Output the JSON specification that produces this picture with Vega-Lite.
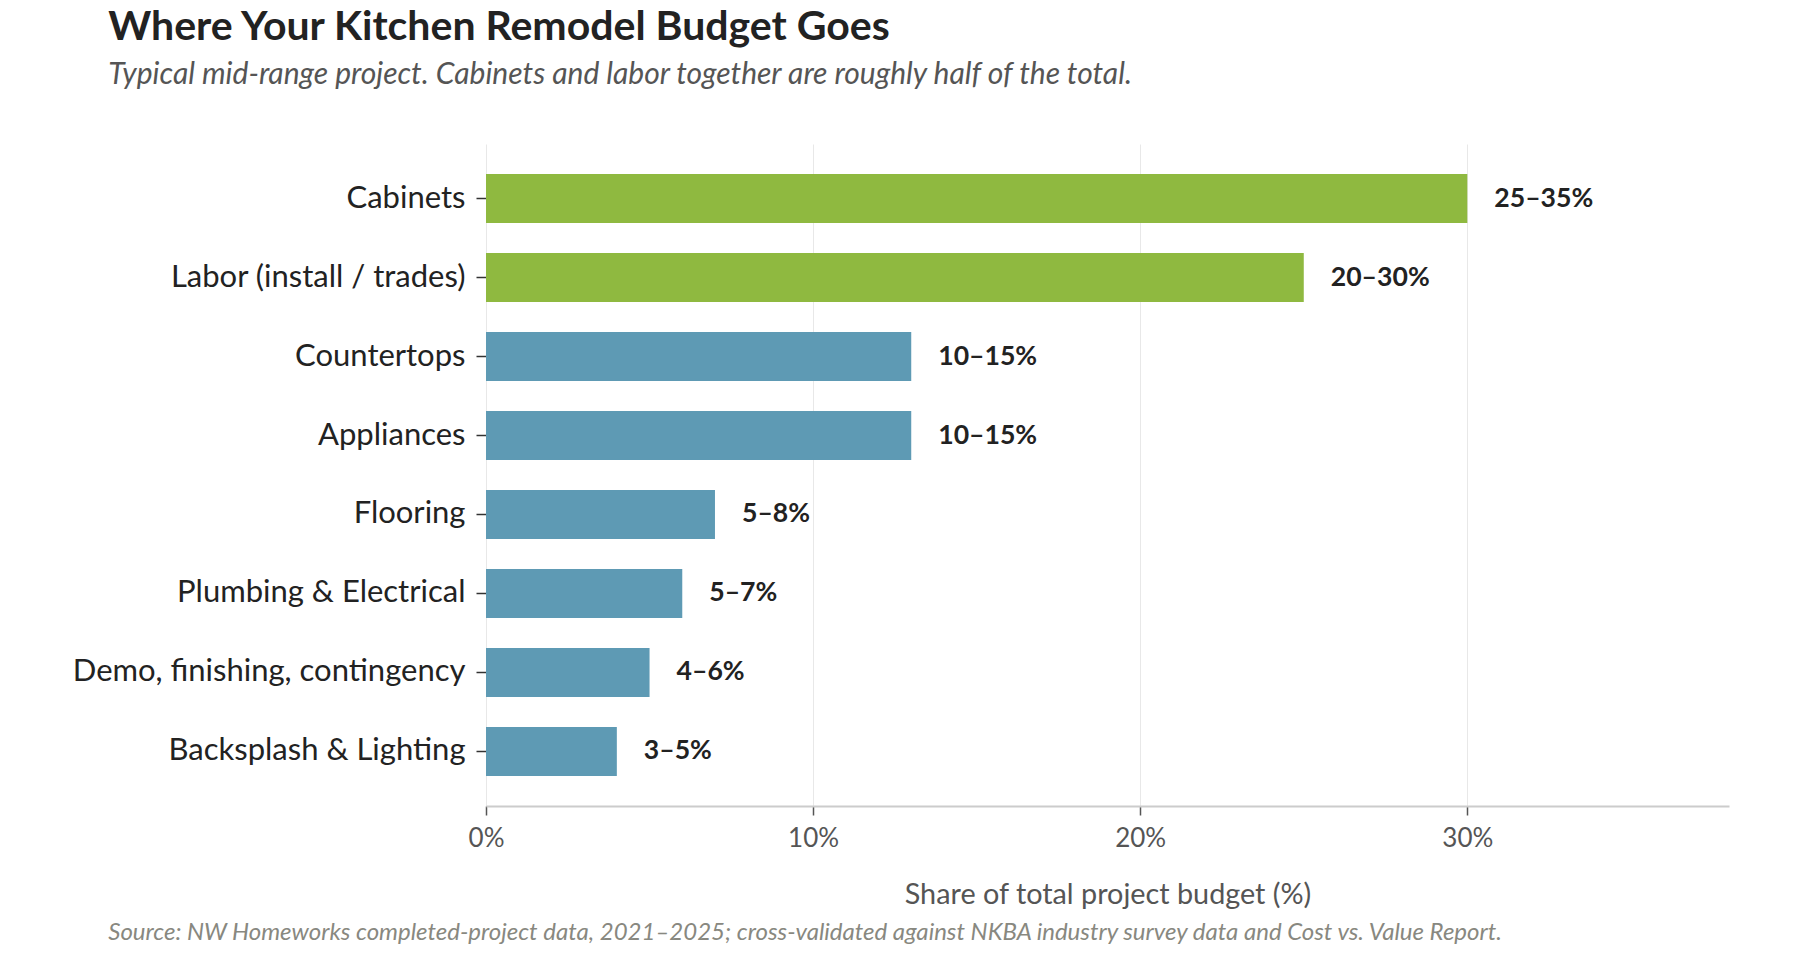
{
  "$schema": "https://vega.github.io/schema/vega-lite/v6.json",
  "background": "white",
  "padding": {"left": 72, "top": 7, "right": 40, "bottom": 5},
  "autosize": {"type": "pad"},
  "config": {
    "font": "Lato",
    "view": {"stroke": null},
    "concat": {"spacing": 0}
  },
  "title": {
    "text": "Where Your Kitchen Remodel Budget Goes",
    "subtitle": "Typical mid-range project. Cabinets and labor together are roughly half of the total.",
    "anchor": "start",
    "frame": "bounds",
    "dx": 36,
    "font": "Lato",
    "fontSize": 41,
    "fontWeight": "bold",
    "color": "#222222",
    "subtitleFont": "Lato",
    "subtitleFontSize": 30,
    "subtitleFontStyle": "italic",
    "subtitleColor": "#555555",
    "subtitlePadding": 11,
    "offset": 53
  },
  "vconcat": [
    {
      "width": 1243,
      "height": 662,
      "title": {
        "text": "Source: NW Homeworks completed-project data, 2021–2025; cross-validated against NKBA industry survey data and Cost vs. Value Report.",
        "orient": "bottom",
        "anchor": "start",
        "frame": "bounds",
        "dx": 36,
        "font": "Lato",
        "fontSize": 24,
        "fontStyle": "italic",
        "fontWeight": "normal",
        "color": "#888880",
        "offset": 12
      },
      "data": {
        "values": [
          {"category": "Cabinets", "share": 30, "range": "25–35%", "group": "major"},
          {"category": "Labor (install / trades)", "share": 25, "range": "20–30%", "group": "major"},
          {"category": "Countertops", "share": 13, "range": "10–15%", "group": "other"},
          {"category": "Appliances", "share": 13, "range": "10–15%", "group": "other"},
          {"category": "Flooring", "share": 7, "range": "5–8%", "group": "other"},
          {"category": "Plumbing & Electrical", "share": 6, "range": "5–7%", "group": "other"},
          {"category": "Demo, finishing, contingency", "share": 5, "range": "4–6%", "group": "other"},
          {"category": "Backsplash & Lighting", "share": 4, "range": "3–5%", "group": "other"}
        ]
      },
      "encoding": {
        "y": {
          "field": "category",
          "type": "nominal",
          "sort": null,
          "title": null,
          "scale": {"paddingInner": 0.38, "paddingOuter": 0.38},
          "axis": {
            "domain": false,
            "grid": false,
            "labelFontSize": 31,
            "labelLimit": 0,
            "labelColor": "#222222",
            "labelPadding": 11,
            "tickSize": 10,
            "tickColor": "#333333",
            "tickWidth": 1.5
          }
        },
        "x": {
          "field": "share",
          "type": "quantitative",
          "title": "Share of total project budget (%)",
          "scale": {"domain": [0, 38], "nice": false},
          "axis": {
            "values": [0, 10, 20, 30],
            "labelExpr": "datum.value + '%'",
            "labelFlush": false,
            "labelFontSize": 26,
            "labelColor": "#555555",
            "labelPadding": 10,
            "tickSize": 9,
            "tickColor": "#555555",
            "tickWidth": 1.5,
            "domainColor": "#cccccc",
            "domainWidth": 2,
            "gridColor": "#e8e8e8",
            "gridWidth": 1,
            "titleFontSize": 28.8,
            "titleFontWeight": "normal",
            "titleColor": "#555555",
            "titlePadding": 29
          }
        }
      },
      "layer": [
        {
          "mark": {"type": "bar"},
          "encoding": {
            "color": {
              "field": "group",
              "type": "nominal",
              "scale": {"domain": ["major", "other"], "range": ["#8fb940", "#5e9ab4"]},
              "legend": null
            }
          }
        },
        {
          "mark": {
            "type": "text",
            "align": "left",
            "baseline": "middle",
            "dx": 27,
            "fontSize": 26.6,
            "fontWeight": "bold",
            "color": "#222222"
          },
          "encoding": {"text": {"field": "range", "type": "nominal"}}
        }
      ]
    }
  ]
}
